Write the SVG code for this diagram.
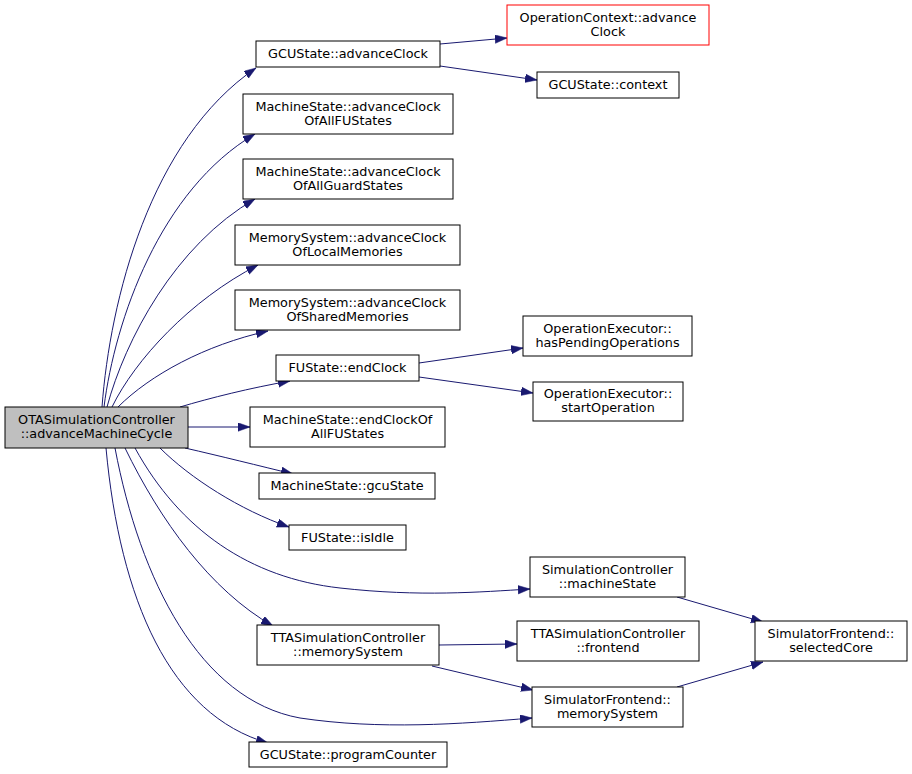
<svg xmlns="http://www.w3.org/2000/svg" width="912" height="774" viewBox="0 0 912 774">
<style>
.n rect{fill:#ffffff;stroke:#000000;stroke-width:1}
.n text{font-family:"DejaVu Sans",sans-serif;font-size:12.8px;text-anchor:middle;fill:#000000}
.e path{fill:none;stroke:#191970;stroke-width:1;marker-end:url(#ah)}
</style>
<defs>
<marker id="ah" markerUnits="userSpaceOnUse" markerWidth="13" markerHeight="10" refX="12" refY="4.25" orient="auto">
<path d="M0,0 L12,4.25 L0,8.5 z" fill="#191970" stroke="#191970" stroke-width="0.5"/>
</marker>
</defs>
<rect width="912" height="774" fill="#ffffff"/>
<g id="edges" class="e">
<path d="M102,407 C110,300 150,140 256,68"/>
<path d="M104,407 C115,320 160,190 255,134"/>
<path d="M107,407 C125,340 175,245 255,199"/>
<path d="M112,407 C135,360 190,300 258,265"/>
<path d="M118,407 C150,375 205,345 268,331"/>
<path d="M180,407 C210,398 250,388 290,381"/>
<path d="M188,427 L250,427"/>
<path d="M185,448 C220,456 260,466 293,474"/>
<path d="M160,448 C190,478 240,510 289,527"/>
<path d="M135,448 C180,530 250,578 340,588 C420,597 480,592 530,589"/>
<path d="M125,448 C160,520 210,590 273,626"/>
<path d="M115,448 C140,580 200,700 300,718 C380,730 460,724 532,718"/>
<path d="M106,448 C120,600 170,715 268,743"/>
<path d="M440,44 L507,38"/>
<path d="M440,66 L537,80"/>
<path d="M419,363 L523,348"/>
<path d="M419,377 L533,393"/>
<path d="M677,597 L763,622"/>
<path d="M439,645 L517,644"/>
<path d="M432,666 L533,690"/>
<path d="M677,687 L763,662"/>
</g>
<g id="n_advanceMachineCycle" class="n"><rect x="5" y="407" width="183" height="41" style="fill:#bfbfbf"/><text x="96.5" y="424">OTASimulationController</text><text x="96.5" y="438">::advanceMachineCycle</text></g>
<g id="n_gcu_advanceClock" class="n"><rect x="256" y="41" width="184" height="26"/><text x="348" y="58">GCUState::advanceClock</text></g>
<g id="n_advClkFU" class="n"><rect x="243" y="94" width="210" height="40"/><text x="348" y="111">MachineState::advanceClock</text><text x="348" y="125">OfAllFUStates</text></g>
<g id="n_advClkGuard" class="n"><rect x="243" y="159" width="210" height="40"/><text x="348" y="176">MachineState::advanceClock</text><text x="348" y="190">OfAllGuardStates</text></g>
<g id="n_advClkLocal" class="n"><rect x="235" y="225" width="225" height="40"/><text x="347.5" y="242">MemorySystem::advanceClock</text><text x="347.5" y="256">OfLocalMemories</text></g>
<g id="n_advClkShared" class="n"><rect x="235" y="290" width="225" height="40"/><text x="347.5" y="307">MemorySystem::advanceClock</text><text x="347.5" y="321">OfSharedMemories</text></g>
<g id="n_endClock" class="n"><rect x="276" y="355" width="143" height="26"/><text x="347.5" y="372">FUState::endClock</text></g>
<g id="n_endClockAllFU" class="n"><rect x="250" y="407" width="195" height="40"/><text x="347.5" y="424">MachineState::endClockOf</text><text x="347.5" y="438">AllFUStates</text></g>
<g id="n_gcuState" class="n"><rect x="259" y="473" width="176" height="26"/><text x="347" y="490">MachineState::gcuState</text></g>
<g id="n_isIdle" class="n"><rect x="289" y="525" width="117" height="25"/><text x="347.5" y="542">FUState::isIdle</text></g>
<g id="n_progCounter" class="n"><rect x="249" y="742" width="198" height="25"/><text x="348" y="759">GCUState::programCounter</text></g>
<g id="n_ttaMemSys" class="n"><rect x="257" y="625" width="182" height="40"/><text x="348" y="642">TTASimulationController</text><text x="348" y="656">::memorySystem</text></g>
<g id="n_opCtxAdvClk" class="n"><rect x="507" y="5" width="202" height="40" style="stroke:#ff0000"/><text x="608" y="22">OperationContext::advance</text><text x="608" y="36">Clock</text></g>
<g id="n_context" class="n"><rect x="537" y="72" width="142" height="26"/><text x="608" y="89">GCUState::context</text></g>
<g id="n_hasPending" class="n"><rect x="523" y="316" width="169" height="40"/><text x="607.5" y="333">OperationExecutor::</text><text x="607.5" y="347">hasPendingOperations</text></g>
<g id="n_startOp" class="n"><rect x="533" y="382" width="150" height="39"/><text x="608" y="398">OperationExecutor::</text><text x="608" y="412">startOperation</text></g>
<g id="n_machineState" class="n"><rect x="530" y="557" width="155" height="40"/><text x="607.5" y="574">SimulationController</text><text x="607.5" y="588">::machineState</text></g>
<g id="n_frontend" class="n"><rect x="517" y="621" width="182" height="40"/><text x="608" y="638">TTASimulationController</text><text x="608" y="652">::frontend</text></g>
<g id="n_sfMemSys" class="n"><rect x="532" y="687" width="151" height="40"/><text x="607.5" y="704">SimulatorFrontend::</text><text x="607.5" y="718">memorySystem</text></g>
<g id="n_selectedCore" class="n"><rect x="755" y="621" width="152" height="40"/><text x="831" y="638">SimulatorFrontend::</text><text x="831" y="652">selectedCore</text></g>
</svg>
